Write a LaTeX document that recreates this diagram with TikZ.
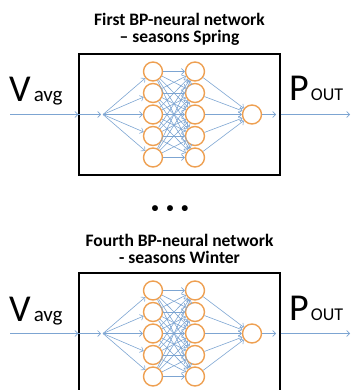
\documentclass[tikz,border=0pt]{standalone}
\usepackage{fontspec}
\setmainfont{Carlito}
\usetikzlibrary{arrows.meta, positioning}

\definecolor{neuronorange}{RGB}{238,160,82}
\definecolor{linkblue}{RGB}{125,165,210}

\begin{document}
\begin{tikzpicture}[x=1pt, y=-1pt,
  netbox/.style={draw, line width=1.4pt, minimum width=201pt, minimum height=121pt, inner sep=0pt},
  neuron/.style={circle, draw=neuronorange, line width=1.4pt, fill=white, minimum size=19pt, inner sep=0pt},
  link/.style={draw=linkblue, line width=0.6pt, -{Straight Barb[length=3pt, width=6pt]}},
  title/.style={font=\bfseries\fontsize{17.5}{17}\selectfont, align=center, inner sep=0pt}]
\useasboundingbox (0,0) rectangle (356,390);
\foreach \k/\dy/\first/\second in {1/0/First BP-neural network/– seasons Spring,
                                   2/219/Fourth BP-neural network/- seasons Winter} {
  % Nodes
  \node[netbox] (box\k) at (179.5,114.5+\dy) {};
  \node[title, above=8pt of box\k] (title\k) {\first\\\second};
  \node[anchor=base west, inner sep=0pt, font=\fontsize{38}{38}\selectfont] (vavg\k) at (9,102+\dy)
    {V\hspace{3pt}{\fontsize{21}{21}\selectfont avg}};
  \node[anchor=base west, inner sep=0pt, font=\fontsize{38}{38}\selectfont] (pout\k) at (289,101+\dy)
    {P\hspace{2pt}{\fontsize{18}{18}\selectfont OUT}};
  \coordinate (vin\k) at (10,114.5+\dy);
  \coordinate (in\k) at (103,114.5+\dy);
  \coordinate (oend\k) at (276,114.5+\dy);
  \coordinate (pend\k) at (350,114.5+\dy);
  \foreach \i in {1,...,5} {
    \node[neuron] (ha\k-\i) at (153,{114.5+\dy+(\i-3)*21.5}) {};
    \node[neuron] (hb\k-\i) at (195,{114.5+\dy+(\i-3)*21.5}) {};
  }
  \node[neuron] (out\k) at (252,114.5+\dy) {};
  % Arrows
  \draw[link] (vin\k) -- (box\k.west);
  \draw[link, shorten >=2pt] (box\k.west) -- (in\k);
  \foreach \i in {1,...,5} {
    \draw[link] (in\k) -- (ha\k-\i);
    \draw[link] (hb\k-\i) -- (out\k);
    \foreach \j in {1,...,5}
      \draw[link] (ha\k-\i) -- (hb\k-\j);
  }
  \draw[link] (out\k) -- (oend\k);
  \draw[link] (box\k.east) -- (pend\k);
}
\node[font=\bfseries\fontsize{14}{14}\selectfont] (dots) at (170,209) {•\hspace{8pt}•\hspace{8pt}•};
\end{tikzpicture}
\end{document}
